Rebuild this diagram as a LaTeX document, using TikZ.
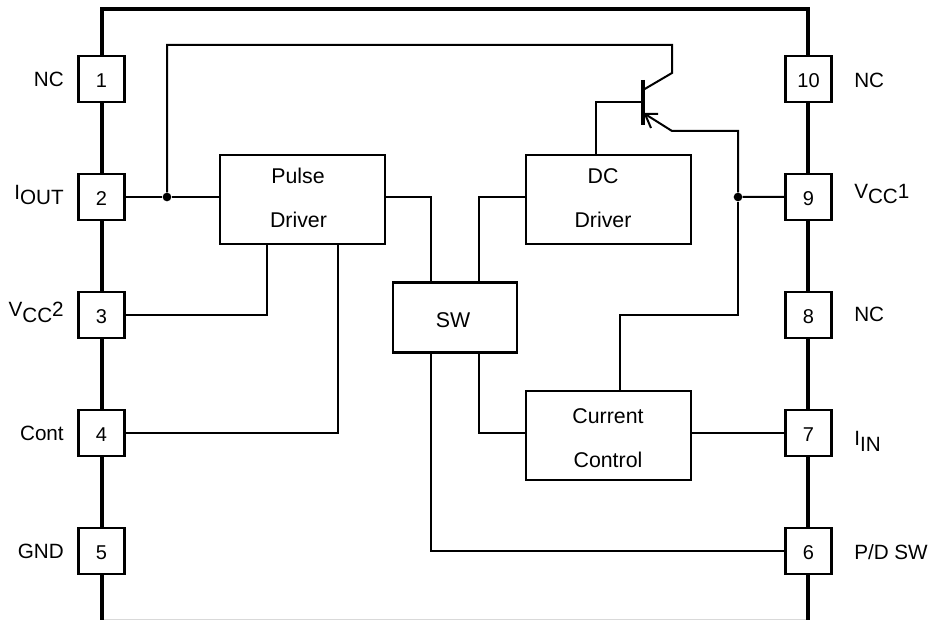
\documentclass[tikz,border=0pt]{standalone}
\usepackage{fontspec}
\setmainfont{Liberation Sans}
\usetikzlibrary{calc}
\tikzset{
  x=0.75pt,y=-0.75pt,
  pinbox/.style={draw,line width=1.6pt,fill=white,minimum width=34.5pt,minimum height=34.5pt,inner sep=0pt,font=\fontsize{15}{15}\selectfont},
  block/.style={draw,line width=1.7pt,fill=white,inner sep=0pt},
  blocktext/.style={inner sep=0pt,anchor=base,font=\fontsize{16}{16}\selectfont},
  wire/.style={line width=1.5pt,line join=miter},
  frameline/.style={line width=3.5pt,line join=miter},
  dotn/.style={circle,fill=black,inner sep=0pt,minimum size=6.5pt},
  lab/.style={inner sep=0pt,font=\fontsize{15.5}{15.5}\selectfont}
}
\newcommand{\up}[1]{\raisebox{4pt}{#1}}
\newcommand{\dn}[1]{\smash{\raisebox{-6.4pt}{#1}}}
\begin{document}
\begin{tikzpicture}
\useasboundingbox (0,0) rectangle (935,620);
% package outline
\coordinate (fbl) at (102,619.6);
\coordinate (fbr) at (808,619.6);
\draw[line width=0.6pt,gray!30] (fbl) -- (fbr);
\draw[frameline] (102,620) -- (102,9) -- (808,9) -- (808,620);
% pins
\foreach \n/\yy in {1/79,2/197,3/315,4/433,5/551}
  \node[pinbox] (p\n) at (101.5,\yy) {\dn{\n}};
\foreach \n/\yy in {10/79,9/197,8/315,7/433,6/551}
  \node[pinbox] (p\n) at (808.5,\yy) {\dn{\n}};
% blocks
\node[block,minimum width=124pt,minimum height=67pt] (pulse) at (302.5,199.5) {};
\node[block,minimum width=124pt,minimum height=67pt] (dc) at (608.5,199.5) {};
\node[block,minimum width=93pt,minimum height=52.5pt] (sw) at (455,317.5) {};
\node[block,minimum width=124pt,minimum height=67pt] (cc) at (608.5,435.5) {};
\node[blocktext] (t1) at (298,184) {Pulse};
\node[blocktext] (t2) at (298.5,228) {Driver};
\node[blocktext] (t3) at (603,184) {DC};
\node[blocktext] (t4) at (603,228) {Driver};
\node[blocktext] (t5) at (453,327) {SW};
\node[blocktext] (t6) at (608,423) {Current};
\node[blocktext] (t7) at (608,467) {Control};
% labels
\node[lab,anchor=base east] (lnc1) at (64,87) {NC};
\node[lab,anchor=base east] (liout) at (64,205) {\up{I}OUT};
\node[lab,anchor=base east] (lvcc2) at (64,322) {\up{V}CC\up{2}};
\node[lab,anchor=base east] (lcont) at (64,440) {Cont};
\node[lab,anchor=base east] (lgnd) at (64,558) {GND};
\node[lab,anchor=base west] (lnc10) at (854,88) {NC};
\node[lab,anchor=base west] (lvcc1) at (854,204) {\up{V}CC\up{1}};
\node[lab,anchor=base west] (lnc8) at (854,321) {NC};
\node[lab,anchor=base west] (liin) at (854,451) {\up{I}IN};
\node[lab,anchor=base west] (lpd) at (854,559) {P/D SW};
% junctions
\node[dotn] (j1) at (167,197) {};
\node[dotn] (j2) at (738,197) {};
% transistor
\coordinate (bt) at (643,80);
\coordinate (bb) at (643,125);
\coordinate (cin) at (643,90);
\coordinate (ctop) at (672,73);
\coordinate (ein) at (645,114);
\coordinate (ebend) at (672,131);
\draw[line width=3pt] (bt) -- (bb);
% wires
\draw[wire] (p2.east) -- (j1) -- (pulse.west |- j1);
\draw[wire] (j1) -- (167,45) -- (672,45) -- (ctop) -- (cin);
\draw[wire] (596,155) -- (596,102) -- (643,102);
\draw[wire] (p9.west) -- (j2) -- (738,131) -- (ebend) -- (ein);
\draw[wire] (658,114) -- (ein) -- (651,128);
\draw[wire] (j2) -- (738,315) -- (620,315) -- (620,391);
\draw[wire] (pulse.east |- j1) -- (431,197) -- (431,282);
\draw[wire] (dc.west |- j1) -- (479,197) -- (479,282);
\draw[wire] (431,352) -- (431,551) -- (p6.west);
\draw[wire] (479,352) -- (479,433) -- (cc.west |- p7);
\draw[wire] (cc.east |- p7) -- (p7.west);
\draw[wire] (267,244) -- (267,315) -- (p3.east);
\draw[wire] (338,244) -- (338,433) -- (p4.east);
\end{tikzpicture}
\end{document}
